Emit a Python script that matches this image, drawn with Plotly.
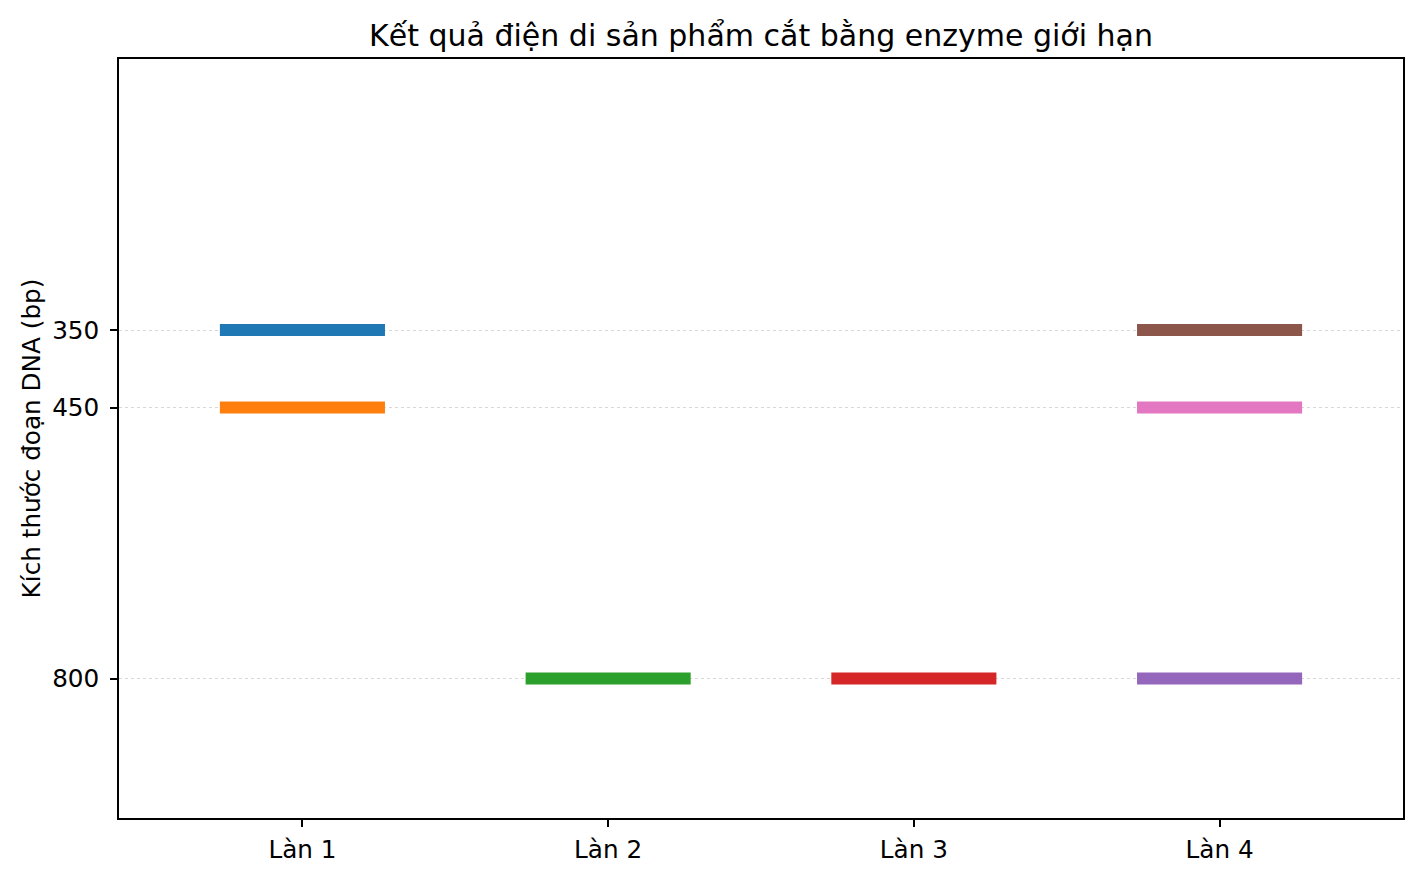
"""Restriction-digest gel chart: bands per lane drawn as thick horizontal segments."""

import plotly.graph_objects as go

LANES = ["Làn 1", "Làn 2", "Làn 3", "Làn 4"]
LANE_POS = [1, 2, 3, 4]

# bands (lane index, size in bp), in drawing order
BAND_LANES = [1, 1, 2, 3, 4, 4, 4]
BAND_SIZES = [350, 450, 800, 800, 800, 350, 450]
BAND_COLORS = ["#1f77b4", "#ff7f0e", "#2ca02c", "#d62728", "#9467bd", "#8c564b", "#e377c2"]

Y_TICKS = [350, 450, 800]
HALF_WIDTH = 0.27

# page body adds an 8px offset, so the figure is a bit smaller than the window
WIDTH, HEIGHT = 1405, 862

fig = go.Figure()
for lane, size, color in zip(BAND_LANES, BAND_SIZES, BAND_COLORS):
    fig.add_trace(
        go.Scatter(
            x=[lane - HALF_WIDTH, lane + HALF_WIDTH],
            y=[size, size],
            mode="lines",
            line=dict(color=color, width=12),
            showlegend=False,
            hoverinfo="skip",
        )
    )

font = "DejaVu Sans, sans-serif"
axis_style = dict(
    zeroline=False,
    showline=True,
    linecolor="black",
    linewidth=1.6,
    mirror=True,
    ticks="outside",
    ticklen=7,
    tickwidth=1.6,
    tickcolor="black",
    tickfont=dict(size=24.7),
    automargin=False,
)

fig.update_layout(
    width=WIDTH,
    height=HEIGHT,
    paper_bgcolor="white",
    plot_bgcolor="white",
    margin=dict(l=111, r=10, t=51, b=52),
    font=dict(family=font, size=24.7, color="black"),
    title=dict(
        text="Kết quả điện di sản phẩm cắt bằng enzyme giới hạn",
        x=753 / WIDTH,
        xanchor="center",
        y=1 - 27 / HEIGHT,
        yanchor="middle",
        font=dict(size=30),
    ),
)
fig.update_xaxes(
    range=[0.4, 4.6],
    tickvals=LANE_POS,
    ticktext=LANES,
    showgrid=False,
    ticklabelstandoff=2,
    **axis_style,
)
fig.update_yaxes(
    range=[980, 0],
    tickvals=Y_TICKS,
    title=dict(text="Kích thước đoạn DNA (bp)", standoff=4, font=dict(size=24.7)),
    showgrid=True,
    gridcolor="rgba(176,176,176,0.5)",
    griddash="dot",
    gridwidth=1,
    ticklabelstandoff=6,
    **axis_style,
)

fig.write_html("out.html")
